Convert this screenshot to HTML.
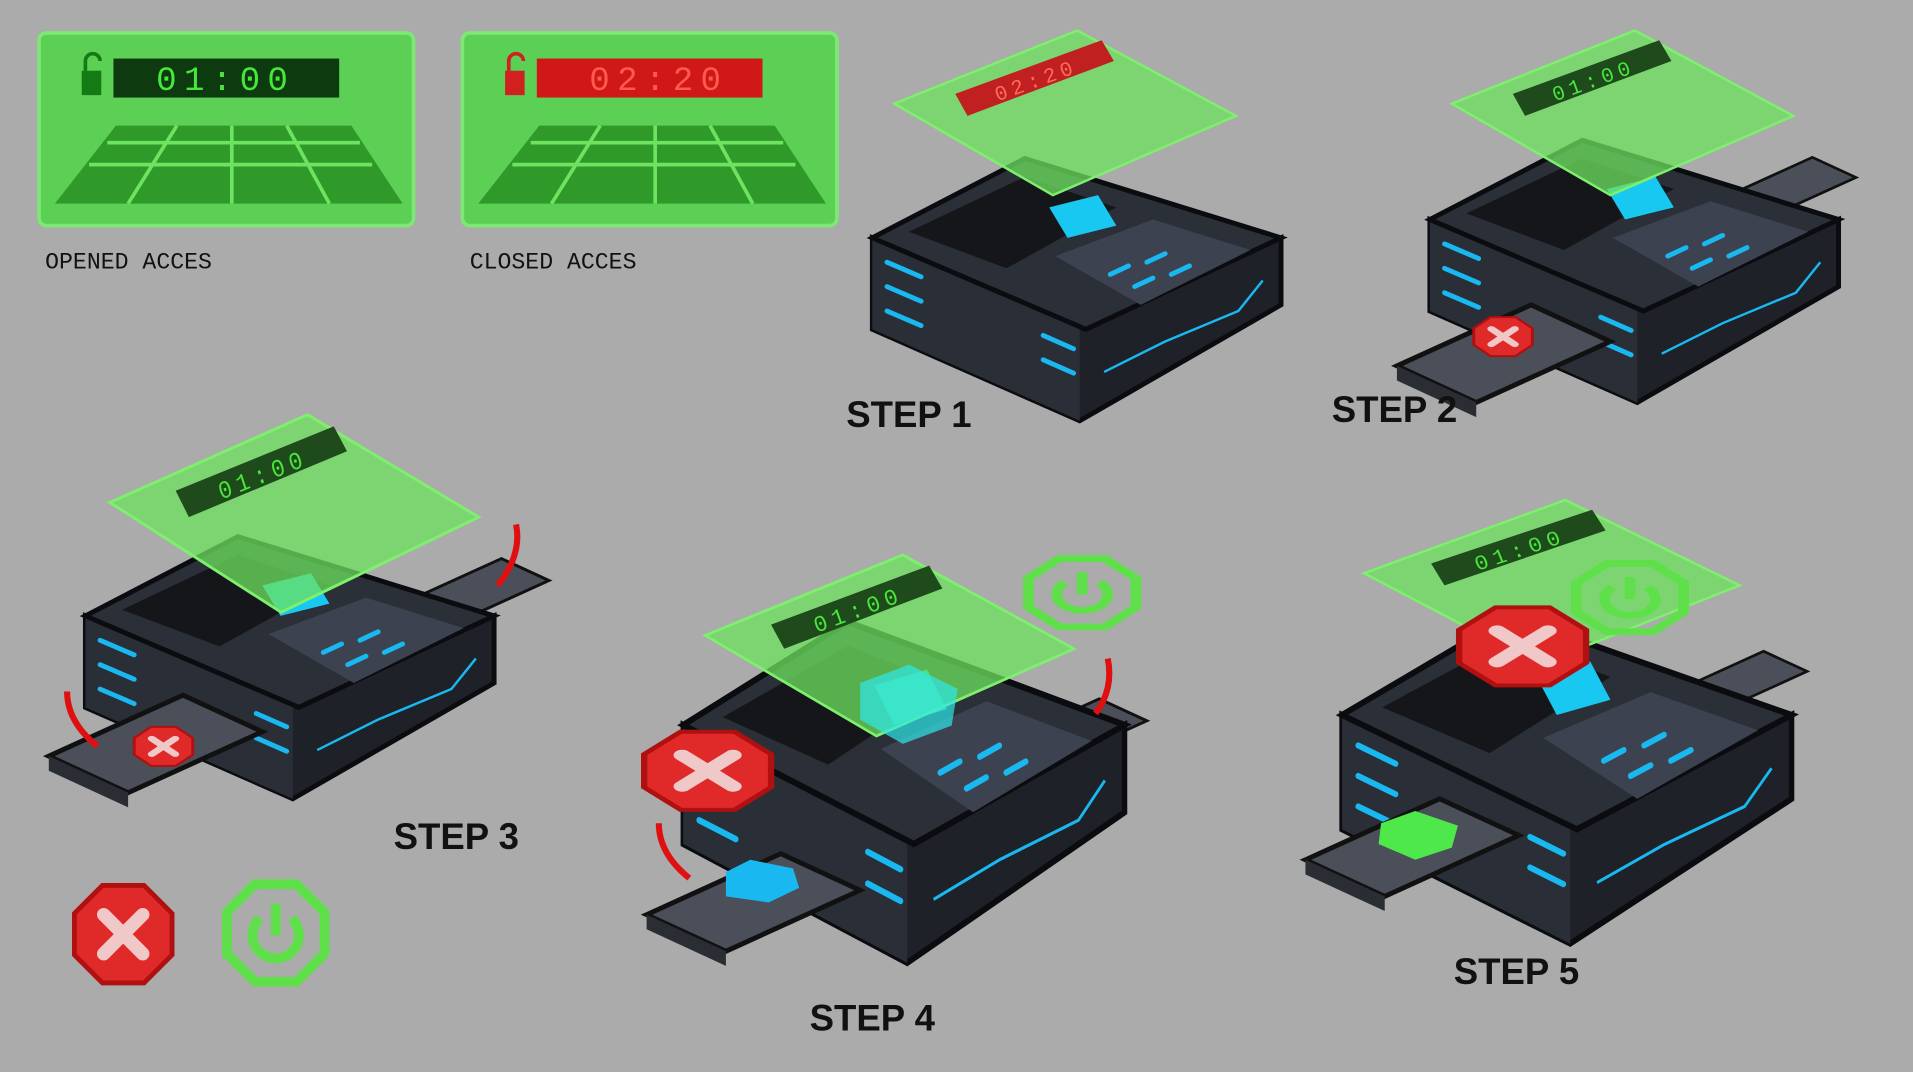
<!DOCTYPE html>
<html><head><meta charset="utf-8"><style>
html,body{margin:0;padding:0;background:#ababab;}
svg{display:block;}
</style></head><body>
<svg width="1913" height="1072" viewBox="0 0 1568 879" preserveAspectRatio="none" xmlns="http://www.w3.org/2000/svg">
<defs>
<g id="dev">
  <polygon points="0,65 0,140 170,215 335,120 335,65 175,140" fill="#1e2127" stroke="#0b0c0f" stroke-width="4"/>
  <polygon points="0,140 170,215 170,140 0,65" fill="#2a2e36"/>
  <polygon points="0,65 125,0 335,65 175,140" fill="#2b2f37" stroke="#0b0c0f" stroke-width="4"/>
  <polygon points="30,60 125,15 200,40 110,90" fill="#14161a"/>
  <polygon points="150,80 230,50 310,75 220,120" fill="#3c4250"/>
  <polygon points="145,40 185,30 200,55 160,65" fill="#19c8f0"/>
  <g stroke="#19b8f0" stroke-width="4" stroke-linecap="round">
    <line x1="12" y1="85" x2="40" y2="97"/>
    <line x1="12" y1="105" x2="40" y2="117"/>
    <line x1="12" y1="125" x2="40" y2="137"/>
    <line x1="140" y1="145" x2="165" y2="156"/>
    <line x1="140" y1="165" x2="165" y2="176"/>
    <line x1="195" y1="95" x2="210" y2="88"/>
    <line x1="225" y1="85" x2="240" y2="78"/>
    <line x1="215" y1="105" x2="230" y2="98"/>
    <line x1="245" y1="95" x2="260" y2="88"/>
  </g>
  <polyline points="190,175 240,150 300,125 320,100" fill="none" stroke="#19b8f0" stroke-width="2"/>
</g>
<g id="holo">
  <polygon points="0,60 150,0 280,70 130,135" fill="#6ee35f" fill-opacity="0.75" stroke="#7ef06d" stroke-width="2"/>
  <polygon points="50,52 170,8 180,25 60,70" fill="#1e4a1c"/>
  <text x="0" y="0" transform="translate(118,46) rotate(-20)" text-anchor="middle" font-family="Liberation Mono,monospace" font-size="17" fill="#46e83a" letter-spacing="4">01:00</text>
</g>
<g id="tray">
  <polygon points="0,30 110,-20 175,10 65,60" fill="#4a4f59" stroke="#111" stroke-width="4"/>
  <polygon points="0,30 65,60 65,72 0,42" fill="#2a2d33"/>
</g>
<g id="redoct">
  <polygon points="-17,-40 17,-40 40,-17 40,17 17,40 -17,40 -40,17 -40,-17" fill="#e02a2a" stroke="#b01010" stroke-width="4"/>
  <path d="M-16,-16 L16,16 M16,-16 L-16,16" stroke="#f0c8c8" stroke-width="11" stroke-linecap="round"/>
</g>
<g id="grnoct">
  <polygon points="-17,-40 17,-40 40,-17 40,17 17,40 -17,40 -40,17 -40,-17" fill="none" stroke="#5fe04a" stroke-width="8"/>
  <path d="M-13,-12 A19,19 0 1 0 13,-12" fill="none" stroke="#5fe04a" stroke-width="8"/>
  <line x1="0" y1="-24" x2="0" y2="2" stroke="#5fe04a" stroke-width="8"/>
</g>
</defs>

<rect x="32" y="27" width="307" height="158" rx="6" fill="#5ccf55" stroke="#7ee874" stroke-width="3"/>
<rect x="93" y="48" width="185" height="32" fill="#0e3a10"/>
<text x="185" y="74" text-anchor="middle" font-family="Liberation Mono,monospace" font-size="28" fill="#46e83a" letter-spacing="6">01:00</text>
<rect x="67" y="58" width="16" height="20" fill="#137a14"/>
<path d="M70,58 v-8 a6,6 0 0 1 12,0" fill="none" stroke="#137a14" stroke-width="3"/>
<polygon points="45,167 95,103 288,103 330,167" fill="#2f9a2a"/>
<g stroke="#6ee35f" stroke-width="3" fill="none"><line x1="73" y1="135" x2="305" y2="135"/><line x1="88" y1="117" x2="295" y2="117"/><line x1="145" y1="103" x2="105" y2="167"/><line x1="190" y1="103" x2="190" y2="167"/><line x1="235" y1="103" x2="270" y2="167"/></g>
<text x="37" y="220" font-family="Liberation Mono,monospace" font-size="19" fill="#111">OPENED ACCES</text>

<rect x="379" y="27" width="307" height="158" rx="6" fill="#5ccf55" stroke="#7ee874" stroke-width="3"/>
<rect x="440" y="48" width="185" height="32" fill="#d01818"/>
<text x="540" y="74" text-anchor="middle" font-family="Liberation Mono,monospace" font-size="28" fill="#ff5a4a" letter-spacing="6">02:20</text>
<rect x="414" y="58" width="16" height="20" fill="#d02020"/>
<path d="M417,58 v-8 a6,6 0 0 1 12,0" fill="none" stroke="#d02020" stroke-width="3"/>
<polygon points="392,167 442,103 635,103 677,167" fill="#2f9a2a"/>
<g stroke="#6ee35f" stroke-width="3" fill="none"><line x1="420" y1="135" x2="652" y2="135"/><line x1="435" y1="117" x2="642" y2="117"/><line x1="492" y1="103" x2="452" y2="167"/><line x1="537" y1="103" x2="537" y2="167"/><line x1="582" y1="103" x2="617" y2="167"/></g>
<text x="385" y="220" font-family="Liberation Mono,monospace" font-size="19" fill="#111">CLOSED ACCES</text>

<!-- step 1 -->
<use href="#dev" transform="translate(715,130)"/>
<g transform="translate(733,25)">
  <polygon points="0,60 150,0 280,70 130,135" fill="#6ee35f" fill-opacity="0.75" stroke="#7ef06d" stroke-width="2"/>
  <polygon points="50,52 170,8 180,25 60,70" fill="#c02020"/>
  <text x="0" y="0" transform="translate(118,46) rotate(-20)" text-anchor="middle" font-family="Liberation Mono,monospace" font-size="17" fill="#ff6a5a" letter-spacing="4">02:20</text>
</g>
<text x="745" y="350" text-anchor="middle" font-family="Liberation Sans,sans-serif" font-weight="bold" font-size="30" fill="#111">STEP 1</text>

<!-- step 2 -->
<use href="#tray" transform="translate(1425,140) scale(0.55)"/>
<use href="#dev" transform="translate(1172,115)"/>
<use href="#tray" transform="translate(1145,270)"/>
<use href="#redoct" transform="translate(1232,276) scale(0.6,0.4)"/>
<use href="#holo" transform="translate(1190,25)"/>
<text x="1143" y="346" text-anchor="middle" font-family="Liberation Sans,sans-serif" font-weight="bold" font-size="30" fill="#111">STEP 2</text>

<!-- step 3 -->
<use href="#tray" transform="translate(345,470) scale(0.6)"/>
<use href="#dev" transform="translate(70,440)"/>
<use href="#tray" transform="translate(40,590)"/>
<use href="#redoct" transform="translate(134,612) scale(0.6,0.4)"/>
<use href="#holo" transform="translate(90,340) scale(1.08,1.2)"/>
<path d="M408,480 q20,-25 15,-50" fill="none" stroke="#e01010" stroke-width="5"/>
<path d="M80,612 q-25,-20 -25,-45" fill="none" stroke="#e01010" stroke-width="5"/>
<text x="374" y="696" text-anchor="middle" font-family="Liberation Sans,sans-serif" font-weight="bold" font-size="30" fill="#111">STEP 3</text>

<!-- step 4 -->
<use href="#tray" transform="translate(835,585) scale(0.6)"/>
<use href="#dev" transform="translate(560,510) scale(1.08,1.3)"/>
<use href="#tray" transform="translate(530,720)"/>
<polygon points="595,715 615,705 650,712 655,728 630,740 595,735" fill="#19b8f0"/>
<use href="#holo" transform="translate(578,455) scale(1.08,1.1)"/>
<polygon points="705,560 745,545 785,565 780,595 740,610 705,590" fill="#2ee8e8" fill-opacity="0.7"/>
<use href="#redoct" transform="translate(580,632) scale(1.3,0.8)"/>
<use href="#grnoct" transform="translate(887,486) scale(1.1,0.7)"/>
<path d="M565,720 q-25,-20 -25,-45" fill="none" stroke="#e01010" stroke-width="5"/>
<path d="M898,585 q15,-20 10,-45" fill="none" stroke="#e01010" stroke-width="5"/>
<text x="715" y="845" text-anchor="middle" font-family="Liberation Sans,sans-serif" font-weight="bold" font-size="30" fill="#111">STEP 4</text>

<!-- step 5 -->
<use href="#tray" transform="translate(1385,545) scale(0.55)"/>
<use href="#dev" transform="translate(1100,505) scale(1.1,1.25)"/>
<use href="#tray" transform="translate(1070,675)"/>
<polygon points="1132,675 1160,665 1195,677 1190,695 1160,705 1130,692" fill="#4ee84a"/>
<use href="#holo" transform="translate(1118,410) scale(1.1,1)"/>
<use href="#redoct" transform="translate(1248,530) scale(1.3,0.8)"/>
<use href="#grnoct" transform="translate(1336,490) scale(1.1,0.7)"/>
<text x="1243" y="807" text-anchor="middle" font-family="Liberation Sans,sans-serif" font-weight="bold" font-size="30" fill="#111">STEP 5</text>

<use href="#redoct" transform="translate(101,766)"/>
<use href="#grnoct" transform="translate(226,765)"/>
</svg>
</body></html>
